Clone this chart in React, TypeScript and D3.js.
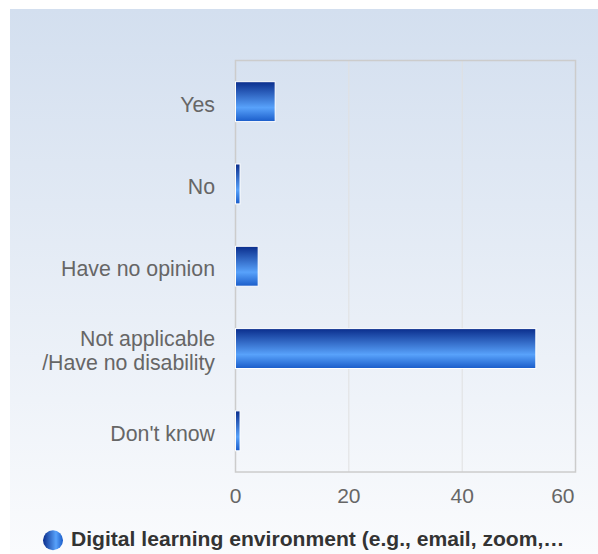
import React from "react";
import * as d3 from "d3";

const categories = ["Yes", "No", "Have no opinion", "Not applicable\n/Have no disability", "Don't know"];
const values = [7, 0.8, 4, 53, 0.8];
const xTicks = [0, 20, 40, 60];
const seriesName = "Digital learning environment (e.g., email, zoom,…";

const W = 598;
const H = 554;
const plot = { left: 235.5, right: 575.5, top: 60.5, bottom: 472 };
const FONT = "'Liberation Sans', Arial, sans-serif";
const FS = 21.3;

export default function App() {
  const x = d3.scaleLinear().domain([0, 60]).range([plot.left, plot.right]);
  const y = d3
    .scaleBand<string>()
    .domain(categories)
    .range([plot.top, plot.bottom])
    .paddingInner(0.515)
    .paddingOuter(0.2575);

  return (
    <div style={{ position: "fixed", left: 0, top: 0, width: W, height: H }}>
      <svg width={W} height={H} style={{ display: "block" }}>
        <defs>
          <linearGradient id="bg" x1="0" y1="0" x2="0" y2="1">
            <stop offset="0" stopColor="#d3dfef" />
            <stop offset="1" stopColor="#fafbfd" />
          </linearGradient>
          <linearGradient id="bar" x1="0" y1="0" x2="0" y2="1">
            <stop offset="0" stopColor="#0a2d8c" />
            <stop offset="0.65" stopColor="#58a2fb" />
            <stop offset="1" stopColor="#1a5cc9" />
          </linearGradient>
          <linearGradient id="dot" x1="0" y1="0" x2="1" y2="0">
            <stop offset="0" stopColor="#0a2d8c" />
            <stop offset="0.65" stopColor="#58a2fb" />
            <stop offset="1" stopColor="#1a5cc9" />
          </linearGradient>
        </defs>
        <rect x={10} y={9} width={W - 10} height={H - 9} fill="url(#bg)" />
        {xTicks.slice(1, -1).map((t) => (
          <line key={t} x1={x(t)} x2={x(t)} y1={plot.top} y2={plot.bottom} stroke="#e0e0e0" strokeWidth={1} />
        ))}
        <rect
          x={plot.left}
          y={plot.top}
          width={plot.right - plot.left}
          height={plot.bottom - plot.top}
          fill="none"
          stroke="#cccccc"
          strokeWidth={1.5}
        />
        {categories.map((c, i) => (
          <rect
            key={c}
            x={x(0)}
            y={y(c)!}
            width={x(values[i]) - x(0)}
            height={y.bandwidth()}
            fill="url(#bar)"
            stroke="#ffffff"
            strokeWidth={1}
          />
        ))}
        {categories.map((c) => {
          const lines = c.split("\n");
          const cy = y(c)! + y.bandwidth() / 2;
          const lh = 24.3;
          const base = lines.length === 1 ? cy + 10 : cy - 2.7;
          return (
            <text key={c} x={215} y={base} textAnchor="end" fontFamily={FONT} fontSize={FS} fill="#666666">
              {lines.map((l, j) => (
                <tspan key={j} x={215} dy={j === 0 ? 0 : lh}>
                  {l}
                </tspan>
              ))}
            </text>
          );
        })}
        {xTicks.map((t, i) => {
          const last = i === xTicks.length - 1;
          return (
            <text
              key={t}
              x={last ? 574.5 : x(t)}
              y={502.5}
              textAnchor={last ? "end" : "middle"}
              fontFamily={FONT}
              fontSize={21}
              fill="#666666"
            >
              {t}
            </text>
          );
        })}
        <circle cx={53} cy={540.3} r={10} fill="url(#dot)" />
        <text x={71} y={546.3} fontFamily={FONT} fontSize={21.1} fontWeight="bold" fill="#333333">
          {seriesName}
        </text>
      </svg>
    </div>
  );
}
